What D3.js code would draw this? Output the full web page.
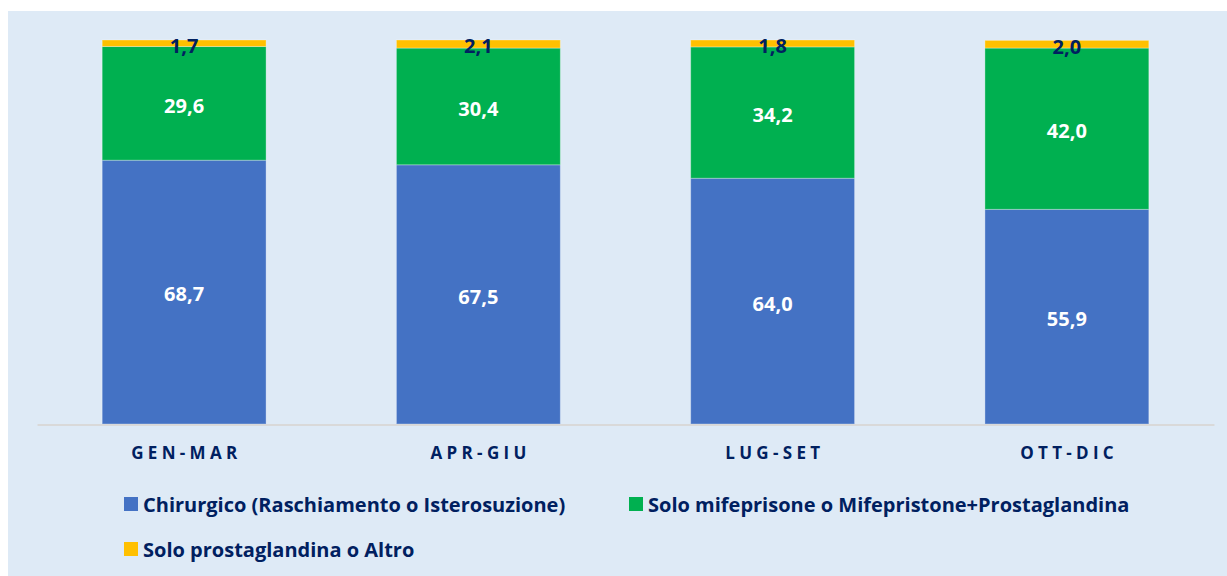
<!DOCTYPE html>
<html><head><meta charset="utf-8">
<script src="https://cdn.jsdelivr.net/npm/d3@7"></script>
<style>html,body{margin:0;padding:0;background:#fff;}svg{display:block;}</style>
</head><body>
<svg id="c" width="1227" height="576"></svg>
<script>
const categories = ["GEN-MAR", "APR-GIU", "LUG-SET", "OTT-DIC"];
const seriesNames = ["Chirurgico (Raschiamento o Isterosuzione)", "Solo mifeprisone o Mifepristone+Prostaglandina", "Solo prostaglandina o Altro"];
const chirurgico = [68.7, 67.5, 64.0, 55.9];
const mifepristone = [29.6, 30.4, 34.2, 42.0];
const altro = [1.7, 2.1, 1.8, 2.0];
const colors = ["#4472C4", "#00B050", "#FFC000"];
const labelColors = ["#FFFFFF", "#FFFFFF", "#002060"];

const svg = d3.select("#c");
const font = "'Open Sans', sans-serif";
svg.append("rect").attr("x", 8).attr("y", 11).attr("width", 1219).attr("height", 565).attr("fill", "#DEEAF6");

const x = d3.scaleBand().domain(categories).range([37, 1214]).paddingInner(0.443).paddingOuter(0.2215);
const y = d3.scaleLinear().domain([0, 100]).range([424, 40]);

const rows = categories.map((c, i) => ({cat: c, s0: chirurgico[i], s1: mifepristone[i], s2: altro[i]}));
const stack = d3.stack().keys(["s0", "s1", "s2"])(rows);

const g = svg.append("g");
stack.forEach((layer, li) => {
  g.selectAll(null).data(layer).enter().append("rect")
    .attr("x", d => x(d.data.cat))
    .attr("y", d => y(d[1]))
    .attr("width", x.bandwidth())
    .attr("height", d => y(d[0]) - y(d[1]))
    .attr("fill", colors[li])
    .attr("stroke", "rgba(255,255,255,0.3)")
    .attr("stroke-width", 1);
});
stack.forEach((layer, li) => {
  g.selectAll(null).data(layer).enter().append("text")
    .attr("x", d => x(d.data.cat) + x.bandwidth() / 2)
    .attr("y", d => (y(d[0]) + y(d[1])) / 2)
    .attr("dy", "0.47em")
    .attr("text-anchor", "middle")
    .attr("font-family", font).attr("font-weight", "bold").attr("font-size", 20)
    .attr("fill", labelColors[li])
    .text(d => d3.format(".1f")(d.data["s" + li]).replace(".", ","));
});

// axis
const axis = svg.append("g").attr("transform", "translate(0,424.5)")
  .call(d3.axisBottom(x).tickSize(0).tickPadding(22));
axis.select(".domain").attr("stroke", "#D9D9D9").attr("stroke-width", 2);
axis.selectAll("text").attr("font-family", font).attr("font-weight", "bold")
  .attr("font-size", 17).attr("fill", "#002060").attr("letter-spacing", "4.3px").attr("dx", "2.2");

// legend
const legendPos = [[124, 497], [629, 497], [124, 542]];
seriesNames.forEach((n, i) => {
  const lg = svg.append("g").attr("transform", `translate(${legendPos[i][0]},${legendPos[i][1]})`);
  lg.append("rect").attr("width", 14).attr("height", 14).attr("fill", colors[i]);
  lg.append("text").attr("x", 19).attr("y", 15).attr("font-family", font)
    .attr("font-weight", "bold").attr("font-size", 20).attr("fill", "#002060").text(n);
});
</script>
</body></html>
